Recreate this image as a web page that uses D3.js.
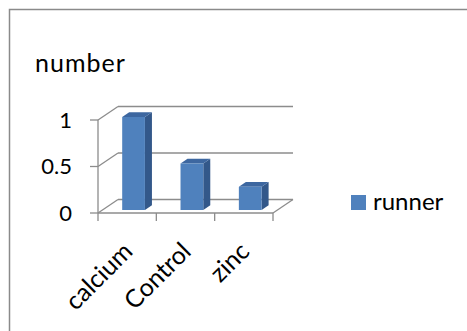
<!DOCTYPE html>
<html>
<head>
<meta charset="utf-8">
<script src="https://cdn.jsdelivr.net/npm/d3@7"></script>
<style>
  body { margin: 0; background: #fff; }
  text { font-family: Lato, "Open Sans", sans-serif; fill: #000; }
</style>
</head>
<body>
<script>
// data
var categories = ["calcium", "Control", "zinc"];
var values = [1, 0.5, 0.25];
var yTicks = [0, 0.5, 1];
var tickLabels = ["0", "0.5", "1"];
var seriesName = "runner";
var axisTitle = "number";

var W = 467, H = 331;
var svg = d3.select("body").append("svg")
    .attr("width", W).attr("height", H);

// outer chart frame (runs off the right and bottom edges)
svg.append("rect")
    .attr("x", 9.5).attr("y", 9.5)
    .attr("width", 470).attr("height", 340)
    .attr("fill", "none").attr("stroke", "#8a8a8a").attr("stroke-width", 1.5);

var x = d3.scaleBand().domain(categories).range([98, 273]);
var y = d3.scaleLinear().domain([0, 1]).range([213, 120]);

// depth shift for the back wall
var DX = 20, DY = -13.5;
function P(px, v, d) { return [px + DX * d, y(v) + DY * d]; }

var grid = "#8c8c8c";
var g = svg.append("g").attr("fill", "none").attr("stroke", grid).attr("stroke-width", 1.3);

// back wall gridlines, side-wall diagonals and floor
yTicks.forEach(function(t) {
  var a = P(98, t, 1), b = P(273, t, 1), c = P(98, t, 0);
  g.append("line").attr("x1", a[0]).attr("y1", a[1]).attr("x2", b[0]).attr("y2", b[1]);
  g.append("line").attr("x1", c[0]).attr("y1", c[1]).attr("x2", a[0]).attr("y2", a[1]);
  // y tick
  g.append("line").attr("x1", c[0] - 8).attr("y1", c[1]).attr("x2", c[0]).attr("y2", c[1]);
});
// front floor edge and right floor diagonal
var f0 = P(98, 0, 0), f1 = P(273, 0, 0), f2 = P(273, 0, 1);
g.append("line").attr("x1", f0[0]).attr("y1", f0[1]).attr("x2", f1[0]).attr("y2", f1[1]);
g.append("line").attr("x1", f1[0]).attr("y1", f1[1]).attr("x2", f2[0]).attr("y2", f2[1]);
// y axis
g.append("line").attr("x1", 98).attr("y1", y(1)).attr("x2", 98).attr("y2", y(0));
// x ticks
x.domain().concat(["end"]).forEach(function(c, i) {
  var px = 98 + i * x.bandwidth();
  g.append("line").attr("x1", px).attr("y1", y(0)).attr("x2", px).attr("y2", y(0) + 8);
});

// y labels
svg.selectAll(".ylab").data(yTicks).enter().append("text")
    .attr("x", 72).attr("y", function(d) { return y(d); })
    .attr("dy", "0.36em").attr("text-anchor", "end")
    .style("font-size", "22px")
    .text(function(d, i) { return tickLabels[i]; });

// bars as boxes
var d0 = 0.22, d1 = 0.57, bw = 0.39;
var bars = svg.selectAll(".bar").data(values).enter().append("g");
bars.each(function(v, i) {
  var gg = d3.select(this);
  var cx = x(categories[i]) + x.bandwidth() / 2 + 2;
  var xl = cx - x.bandwidth() * bw / 2, xr = cx + x.bandwidth() * bw / 2;
  var a = P(xl, 0, d0), b = P(xr, 0, d0), c = P(xr, v, d0), d = P(xl, v, d0);
  var b2 = P(xr, 0, d1), c2 = P(xr, v, d1), d2 = P(xl, v, d1);
  gg.append("polygon").attr("points", [b, b2, c2, c].join(" ")).attr("fill", "#33588a");
  gg.append("polygon").attr("points", [d, c, c2, d2].join(" ")).attr("fill", "#3d67a0");
  gg.append("polygon").attr("points", [a, b, c, d].join(" ")).attr("fill", "#4f81bd");
});

// x labels rotated
svg.selectAll(".xlab").data(categories).enter().append("text")
    .attr("text-anchor", "end")
    .style("font-size", "25px")
    .attr("transform", function(d) {
      return "translate(" + (x(d) + x.bandwidth() / 2 + 7) + "," + 253 + ") rotate(-45)";
    })
    .text(function(d) { return d; });

// axis title
svg.append("text").attr("x", 35).attr("y", 72)
    .style("font-size", "25px").style("letter-spacing", "1px").text(axisTitle);

// legend
svg.append("rect").attr("x", 351).attr("y", 195).attr("width", 15).attr("height", 15)
    .attr("fill", "#4f81bd");
svg.append("text").attr("x", 373).attr("y", 210)
    .style("font-size", "24px").text(seriesName);
</script>
</body>
</html>
